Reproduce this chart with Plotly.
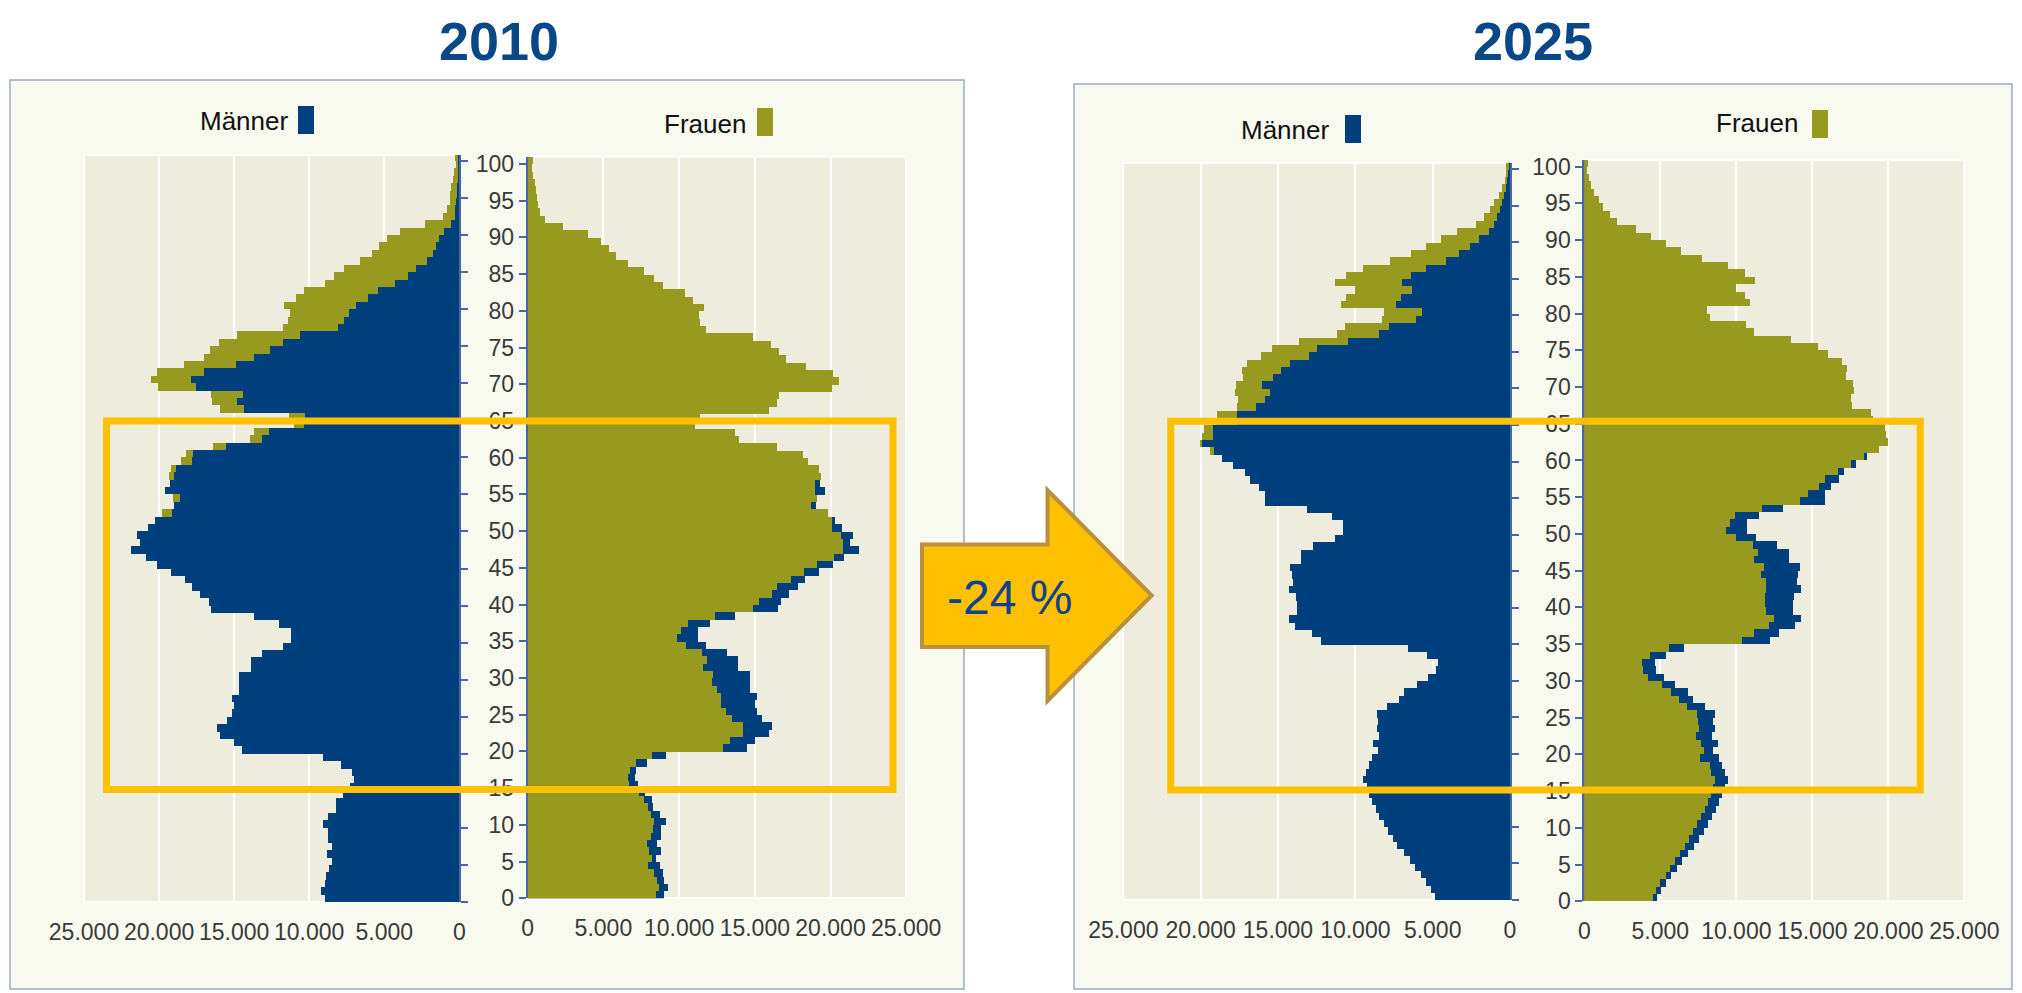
import plotly.graph_objects as go

W, H = 2022, 993
OFF = 8  # the page body margin; the figure is drawn that far in from the window edge

AGES = list(range(0, 101))

MEN_2010 = [
    8975, 9218, 8975, 8908, 8687, 8487, 8797, 8509, 8753, 8775,
    9086, 8731, 8244, 8199, 7756, 7268, 7047, 7135, 7889, 9086,
    14470, 15024, 15911, 16132, 15467, 15135, 15024, 15135, 14692, 14648,
    14648, 13872, 13872, 13141, 11767, 11235, 11235, 11988, 13650, 16509,
    16686, 17240, 17839, 18282, 19235, 20121, 20875, 21850, 21274, 21451,
    20719, 20250, 19123, 19000, 18636, 19611, 19279, 19013, 18902, 17839,
    17750, 15512, 13141, 12698, 10370, 10304, 14315, 14803, 14404, 17528,
    17861, 16975, 14869, 13650, 12587, 11767, 10592, 8088, 7667, 7335,
    6914, 6094, 5429, 4277, 3435, 2903, 2172, 1728, 1573, 1352,
    1019, 554, 290, 260, 220, 180, 150, 120, 90, 60,
    40,
]
WOMEN_2010 = [
    8463, 8682, 8506, 8330, 7913, 8199, 8001, 7847, 8133, 8286,
    8330, 8111, 7957, 7671, 7363, 6638, 6572, 6748, 7121, 8177,
    12859, 13342, 14177, 14177, 13496, 13078, 12727, 12727, 12507, 12177,
    12243, 11540, 11803, 11518, 10440, 9825, 10111, 10550, 12353, 14837,
    15276, 16090, 16419, 17343, 18222, 19101, 20200, 20816, 20816, 20706,
    20046, 20046, 19826, 18661, 19101, 18969, 18947, 19342, 19233, 18507,
    18178, 16419, 13914, 13694, 11034, 11364, 15936, 16441, 16551, 20046,
    20551, 20156, 18331, 17013, 16595, 16023, 14837, 11759, 11386, 11298,
    11649, 10880, 10375, 8946, 8330, 7671, 6594, 5825, 5363, 4814,
    3956, 2286, 1099, 791, 637, 593, 528, 440, 330, 242,
    308,
]
MEN_2025 = [
    4803, 5088, 5417, 5746, 6118, 6469, 6842, 7259, 7566, 7895,
    8158, 8443, 8662, 8882, 9101, 9254, 9474, 9298, 9101, 8882,
    8487, 8816, 8443, 8597, 8487, 8597, 7939, 7171, 6842, 6009,
    5263, 4759, 4649, 5373, 6579, 12215, 12807, 13860, 14255, 13750,
    13750, 13816, 14255, 14035, 14079, 14233, 13465, 13465, 12719, 11294,
    10746, 10746, 11491, 13092, 15834, 15834, 16228, 16777, 17105, 17873,
    18618, 19136, 19890, 19158, 19158, 17563, 17606, 16421, 15839, 15516,
    15990, 15301, 14762, 14223, 12995, 12456, 10452, 8469, 7801, 6034,
    5646, 7327, 7047, 6293, 6961, 6400, 5388, 4138, 3297, 2586,
    1983, 1358, 1013, 819, 647, 496, 366, 237, 151, 86,
    43,
]
WOMEN_2025 = [
    4539, 4759, 5022, 5373, 5680, 5987, 6294, 6623, 6908, 7171,
    7434, 7719, 7939, 8158, 8377, 8487, 8640, 8377, 8268, 7654,
    7873, 7719, 7390, 7566, 7500, 7456, 6776, 6250, 5702, 5132,
    4211, 3882, 3816, 4364, 5570, 10417, 11184, 12171, 12500, 11996,
    11930, 11886, 11996, 11952, 11623, 11820, 11184, 11447, 11118, 9978,
    9320, 9627, 9956, 11732, 14233, 14737, 15461, 15834, 16711, 17588,
    18399, 19408, 20000, 19891, 19781, 19013, 18904, 17654, 17544, 17763,
    17698, 17215, 17325, 16974, 16053, 15395, 13640, 11184, 10636, 8268,
    8114, 10899, 10614, 9978, 11272, 10614, 9474, 7763, 6404, 5417,
    4430, 3399, 2193, 1689, 1250, 987, 680, 482, 329, 219,
    263,
]

X_TICKS = [0, 5000, 10000, 15000, 20000, 25000]
X_TICK_TEXT = ["0", "5.000", "10.000", "15.000", "20.000", "25.000"]
AGE_TICKS = list(range(0, 101, 5))
CHANGE_LABEL = "-24 %"

BLUE = "#003f7e"
OLIVE = "#989a1f"
PLOT_BG = "#eeecdd"
PANEL_BG = "#f8f9ef"
PANEL_LINE = "#98a9cb"
AXIS = "#4a67a5"
YELLOW = "#ffc000"
ARROW_LINE = "#b8903f"
TITLE = "#0a4787"
TEXT = "#3a3a3a"
FONT = "Liberation Sans Narrow, Arial Narrow, Liberation Sans, Arial, sans-serif"

FW, FH = W - OFF, H - OFF


def px(x):
    return (x - OFF) / FW


def py(y):
    return 1 - (y - OFF) / FH


# pixel geometry of the two panels (window coordinates)
PANELS = [
    dict(year="2010", men=MEN_2010, women=WOMEN_2010,
         box=(10, 80, 964, 989),
         men_x=(84, 459.3), men_y=(902, 155, 100.8),
         women_x=(527.7, 906.2), women_y=(898.3, 156.6, 101),
         title_x=499,
         men_leg=(290, 121, 298, 106), women_leg=(748, 124, 757, 108),
         band=(106.5, 421, 893, 789.5)),
    dict(year="2025", men=MEN_2025, women=WOMEN_2025,
         box=(1074, 84, 2012, 989),
         men_x=(1123.3, 1510), men_y=(900, 162.7, 100.9),
         women_x=(1584.3, 1964.3), women_y=(901.3, 160, 100.9),
         title_x=1533,
         men_leg=(1331, 130, 1345, 115), women_leg=(1800, 123, 1812, 110),
         band=(1170.7, 421.3, 1920.3, 790)),
]

fig = go.Figure()
layout = {}
shapes = []
annotations = []

for p, panel in enumerate(PANELS):
    bx0, by0, bx1, by1 = panel["box"]
    shapes.append(dict(type="rect", xref="paper", yref="paper", layer="below",
                       x0=px(bx0), x1=px(bx1), y0=py(by1), y1=py(by0),
                       fillcolor=PANEL_BG, line=dict(color=PANEL_LINE, width=1.5)))

    for side in ("men", "women"):
        k = 2 * p + (1 if side == "men" else 2)
        sfx = "" if k == 1 else str(k)
        xa, ya = "x" + sfx, "y" + sfx
        if side == "men":
            order = [(panel["women"], OLIVE), (panel["men"], BLUE)]
        else:
            order = [(panel["men"], BLUE), (panel["women"], OLIVE)]
        for vals, col in order:
            fig.add_trace(go.Bar(
                x=vals, y=AGES, orientation="h", width=1, offset=0,
                marker=dict(color=col, line=dict(width=0)),
                xaxis=xa, yaxis=ya, showlegend=False,
            ))
        x0, x1 = panel[side + "_x"]
        yb, yt, top = panel[side + "_y"]
        # plot area background (drawn as a shape so it sits above the panel)
        shapes.append(dict(type="rect", xref="paper", yref="paper", layer="below",
                           x0=px(x0), x1=px(x1), y0=py(yb), y1=py(yt),
                           fillcolor=PLOT_BG, line=dict(color="white", width=2)))
        layout["xaxis" + sfx] = dict(
            domain=[px(x0), px(x1)],
            range=[25000, 0] if side == "men" else [0, 25000],
            anchor=ya, tickvals=X_TICKS, ticktext=X_TICK_TEXT,
            showgrid=True, gridcolor="white", gridwidth=2,
            zeroline=False, showline=False, ticks="", tickangle=0,
            automargin=False, ticklabelstandoff=14,
            tickfont=dict(family=FONT, size=23, color=TEXT),
        )
        layout["yaxis" + sfx] = dict(
            domain=[py(yb), py(yt)], range=[0, top], anchor=xa,
            side="right" if side == "men" else "left",
            showline=True, linecolor=AXIS, linewidth=2,
            ticks="outside", ticklen=7, tickwidth=2, tickcolor=AXIS,
            tickvals=AGE_TICKS, showticklabels=(side == "women"),
            tickfont=dict(family=FONT, size=23, color=TEXT),
            showgrid=False, zeroline=False, automargin=False,
        )

    annotations.append(dict(text="<b>" + panel["year"] + "</b>", xref="paper", yref="paper",
                            x=px(panel["title_x"]), y=py(41), showarrow=False,
                            xanchor="center", yanchor="middle",
                            font=dict(family=FONT, size=54, color=TITLE)))

    for label, key, col in (("Männer", "men_leg", BLUE), ("Frauen", "women_leg", OLIVE)):
        tx, ty, mx, my = panel[key]
        annotations.append(dict(text=label, xref="paper", yref="paper",
                                x=px(tx), y=py(ty), showarrow=False,
                                xanchor="right", yanchor="middle",
                                font=dict(family=FONT, size=26, color="#111111")))
        shapes.append(dict(type="rect", xref="paper", yref="paper", layer="above",
                           x0=px(mx), x1=px(mx + 16), y0=py(my + 28), y1=py(my),
                           fillcolor=col, line=dict(width=0)))

    lx0, ly0, lx1, ly1 = panel["band"]
    shapes.append(dict(type="rect", xref="paper", yref="paper", layer="above",
                       x0=px(lx0), x1=px(lx1), y0=py(ly1), y1=py(ly0),
                       line=dict(color=YELLOW, width=7)))

# arrow between the panels
arrow_pts = [(922, 544.5), (1047.5, 544.5), (1047.5, 490), (1151.7, 595.5),
             (1047.5, 701), (1047.5, 647), (922, 647)]
path = "M " + " L ".join(f"{px(x):.5f},{py(y):.5f}" for x, y in arrow_pts) + " Z"
shapes.append(dict(type="path", xref="paper", yref="paper", layer="above", path=path,
                   fillcolor=YELLOW, line=dict(color=ARROW_LINE, width=4)))
annotations.append(dict(text=CHANGE_LABEL, xref="paper", yref="paper",
                        x=px(1009), y=py(597), showarrow=False,
                        xanchor="center", yanchor="middle",
                        font=dict(family="Liberation Sans, Arial, sans-serif", size=48, color="#12438a")))

fig.update_layout(
    width=FW, height=FH,
    margin=dict(l=0, r=0, t=0, b=0, autoexpand=False),
    paper_bgcolor="white", plot_bgcolor="rgba(0,0,0,0)",
    barmode="overlay", bargap=0,
    shapes=shapes, annotations=annotations,
    **layout,
)

fig.write_html("out.html")
